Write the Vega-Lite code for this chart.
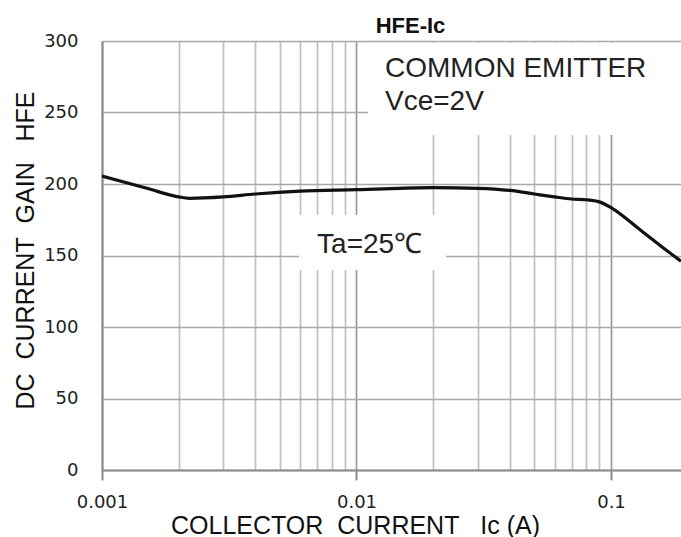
{
  "$schema": "https://vega.github.io/schema/vega-lite/v6.json",
  "autosize": "none",
  "padding": {"left": 102, "top": 41, "right": 0, "bottom": 67},
  "width": 579,
  "height": 429,
  "background": "white",
  "config": {"view": {"stroke": null}},
  "title": {"text": "HFE-Ic", "font": "Liberation Sans", "fontSize": 22, "fontWeight": "bold", "color": "#111", "frame": "group", "anchor": "middle", "dx": 19, "offset": 8, "baseline": "alphabetic", "dy": 31},
  "datasets": {
    "curve": [
      {"ic": 0.001, "hfe": 205.5},
      {"ic": 0.0015, "hfe": 197},
      {"ic": 0.002, "hfe": 191},
      {"ic": 0.0022, "hfe": 190},
      {"ic": 0.003, "hfe": 191},
      {"ic": 0.004, "hfe": 193},
      {"ic": 0.006, "hfe": 195},
      {"ic": 0.01, "hfe": 196},
      {"ic": 0.02, "hfe": 197.5},
      {"ic": 0.03, "hfe": 197},
      {"ic": 0.04, "hfe": 195.5},
      {"ic": 0.05, "hfe": 193},
      {"ic": 0.06, "hfe": 191},
      {"ic": 0.07, "hfe": 189.5},
      {"ic": 0.08, "hfe": 189},
      {"ic": 0.09, "hfe": 187.5},
      {"ic": 0.1, "hfe": 183.5},
      {"ic": 0.13, "hfe": 168},
      {"ic": 0.156, "hfe": 157},
      {"ic": 0.1884, "hfe": 146}
    ],
    "boxes": [
      {"x1": 0.0111, "x2": 0.1884, "y1": 234.3, "y2": 298.8},
      {"x1": 0.00594, "x2": 0.0225, "y1": 139.9, "y2": 178.3}
    ],
    "notes": [
      {"text": "COMMON EMITTER", "ic": 0.01294, "hfe": 274.8},
      {"text": "Vce=2V", "ic": 0.01294, "hfe": 251.7},
      {"text": "Ta=25℃", "ic": 0.0070, "hfe": 151.7}
    ]
  },
  "layer": [
    {
      "data": {"name": "boxes"},
      "mark": {"type": "rect", "color": "white", "clip": true},
      "encoding": {
        "x": {"field": "x1", "type": "quantitative", "scale": {"type": "log", "domain": [0.001, 0.1884], "nice": false},
          "axis": {
            "values": [0.001,0.002,0.003,0.004,0.005,0.006,0.007,0.008,0.009,0.01,0.02,0.03,0.04,0.05,0.06,0.07,0.08,0.09,0.1],
            "format": ".3~f",
            "labelExpr": "abs(log(datum.value)/LN10 - round(log(datum.value)/LN10)) < 0.01 ? datum.label : ''",
            "labelOverlap": false,
            "labelBound": false,
            "labelFlush": false,
            "labelFont": "DejaVu Sans",
            "labelFontSize": 18,
            "labelColor": "#222",
            "labelPadding": 13,
            "tickSize": 10,
            "tickColor": "#888",
            "tickWidth": 2,
            "tickOpacity": {"condition": {"test": "abs(log(datum.value)/LN10 - round(log(datum.value)/LN10)) < 0.01", "value": 1}, "value": 0},
            "grid": true,
            "gridColor": {"condition": {"test": "abs(log(datum.value)/LN10 - round(log(datum.value)/LN10)) < 0.01", "value": "#9a9a9a"}, "value": "#c0c0c0"},
            "gridWidth": 1.7,
            "domainColor": "#8c8c8c",
            "domainWidth": 2,
            "title": "COLLECTOR\u00a0 CURRENT\u00a0 \u00a0Ic (A)",
            "titleFont": "Liberation Sans",
            "titleFontSize": 25,
            "titleFontWeight": "normal",
            "titleColor": "#111",
            "titleX": 253,
            "titleY": 63,
            "titleAlign": "center",
            "titleBaseline": "alphabetic"
          }},
        "x2": {"field": "x2"},
        "y": {"field": "y1", "type": "quantitative", "scale": {"domain": [0, 300], "nice": false},
          "axis": {
            "values": [0, 50, 100, 150, 200, 250, 300],
            "labelFont": "DejaVu Sans",
            "labelFontSize": 18,
            "labelColor": "#222",
            "labelPadding": 24,
            "ticks": false,
            "grid": true,
            "gridColor": "#a8a8a8",
            "gridWidth": 1.7,
            "domainColor": "#8c8c8c",
            "domainWidth": 2,
            "title": "DC\u00a0 CURRENT\u00a0 GAIN\u00a0\u00a0 HFE",
            "titleFont": "Liberation Sans",
            "titleFontSize": 25,
            "titleFontWeight": "normal",
            "titleColor": "#111",
            "titleX": -69,
            "titleY": 209,
            "titleAlign": "center",
            "titleBaseline": "alphabetic",
            "titleAngle": -90
          }},
        "y2": {"field": "y2"}
      }
    },
    {
      "data": {"name": "curve"},
      "mark": {"type": "line", "color": "#111", "strokeWidth": 3.2, "interpolate": "monotone", "clip": true},
      "encoding": {
        "x": {"field": "ic", "type": "quantitative"},
        "y": {"field": "hfe", "type": "quantitative"}
      }
    },
    {
      "data": {"name": "notes"},
      "mark": {"type": "text", "align": "left", "baseline": "alphabetic", "font": "Liberation Sans", "fontSize": 28, "color": "#222"},
      "encoding": {
        "x": {"field": "ic", "type": "quantitative"},
        "y": {"field": "hfe", "type": "quantitative"},
        "text": {"field": "text"}
      }
    }
  ]
}
